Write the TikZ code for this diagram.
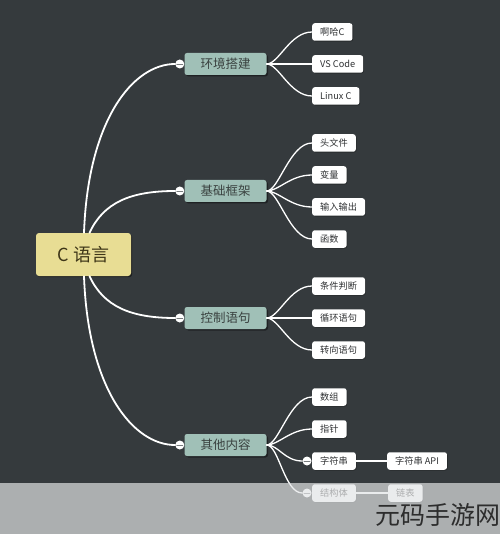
\documentclass[tikz,border=0pt]{standalone}
\usepackage{fontspec}
\setmainfont{Noto Sans CJK SC}
\usetikzlibrary{shadows}
\definecolor{bg}{RGB}{53,58,61}
\definecolor{rootfill}{RGB}{232,221,148}
\definecolor{roottext}{RGB}{62,54,24}
\definecolor{topicfill}{RGB}{160,192,183}
\definecolor{topictext}{RGB}{58,66,64}
\definecolor{leaftext}{RGB}{48,50,52}
\definecolor{knobline}{RGB}{120,124,126}
\definecolor{bandfill}{RGB}{226,228,229}
\definecolor{wmtext}{RGB}{45,45,45}
\begin{document}
\begin{tikzpicture}[x=1pt,y=-1pt,line cap=round,line join=round,
  rootbox/.style={fill=rootfill,rounded corners=3pt,minimum width=95pt,minimum height=43pt,
    font=\fontsize{18}{18}\selectfont,text=roottext,
    drop shadow={shadow xshift=1.2pt,shadow yshift=-1.2pt,fill=black,opacity=0.45}},
  topic/.style={fill=topicfill,rounded corners=2.5pt,minimum width=82pt,minimum height=22pt,
    font=\fontsize{12.5}{12.5}\selectfont,text=topictext,
    drop shadow={shadow xshift=1.5pt,shadow yshift=-1.5pt,fill=black,opacity=0.4}},
  leaf/.style={fill=white,rounded corners=2.5pt,minimum height=17.5pt,inner xsep=8pt,inner ysep=0pt,
    anchor=west,font=\fontsize{9.2}{9.2}\selectfont,text=leaftext,
    drop shadow={shadow xshift=0.8pt,shadow yshift=-0.8pt,fill=black,opacity=0.25}},
  link/.style={draw=white,line width=1.8pt},
  twig/.style={draw=white,line width=1.3pt},
  knob/.style={circle,fill=white,inner sep=0pt,minimum size=9pt,
    path picture={\draw[knobline,line width=0.8pt]
      ([xshift=-3pt]path picture bounding box.center)--([xshift=3pt]path picture bounding box.center);}}]
\useasboundingbox (0,0) rectangle (500,534);
\fill[bg] (0,0) rectangle (500,534);
% centre and main branches
\node[rootbox] (root) at (83.5,254.5) {C 语言};
\foreach \n/\y/\t in {env/64/环境搭建,base/191/基础框架,ctrl/318/控制语句,misc/445/其他内容}{
  \node[topic] (\n) at (225.5,\y) {\t};
  \node[knob] (\n-k) at ([xshift=-4.5pt]\n.west) {};
}
\draw[link] ([xshift=0.5pt]root.north) .. controls +(4,-113) and +(-42,0) .. (env-k.west);
\draw[link] ([xshift=6pt]root.north) .. controls +(14,-30) and +(-45,0) .. (base-k.west);
\draw[link] ([xshift=6pt]root.south) .. controls +(14,30) and +(-45,0) .. (ctrl-k.west);
\draw[link] ([xshift=0.5pt]root.south) .. controls +(4,113) and +(-42,0) .. (misc-k.west);
% leaves
\foreach \p/\n/\y/\t in {env/ahac/32/啊哈C,env/vsc/64/VS Code,env/lnx/96/Linux C,
  base/hdr/143/头文件,base/var/175/变量,base/io/207/输入输出,base/fun/239/函数,
  ctrl/cond/286/条件判断,ctrl/loop/318/循环语句,ctrl/jump/350/转向语句,
  misc/arr/397/数组,misc/ptr/429/指针}{
  \node[leaf] (\n) at (312,\y) {\t};
  \draw[twig] (\p.east) .. controls +(12,0) and +(-22,0) .. (\n.west);
}
\foreach \n/\y/\t in {str/461/字符串,stc/493/结构体}{
  \node[leaf] (\n) at (312,\y) {\t};
  \node[knob] (\n-k) at ([xshift=-5pt]\n.west) {};
  \draw[twig] (misc.east) .. controls +(12,0) and +(-18,0) .. (\n-k.west);
}
\node[leaf] (strapi) at (387,461) {字符串 API};
\node[leaf] (list) at (388,493) {链表};
\draw[twig] (str.east) -- (strapi.west);
\draw[twig] (stc.east) -- (list.west);
% grey band and watermark
\fill[bandfill,fill opacity=0.69] (0,483) rectangle (500,534);
\node[font=\fontsize{25}{25}\selectfont,text=wmtext,anchor=east,inner sep=0pt] (wm) at (501,515) {元码手游网};
\end{tikzpicture}
\end{document}
